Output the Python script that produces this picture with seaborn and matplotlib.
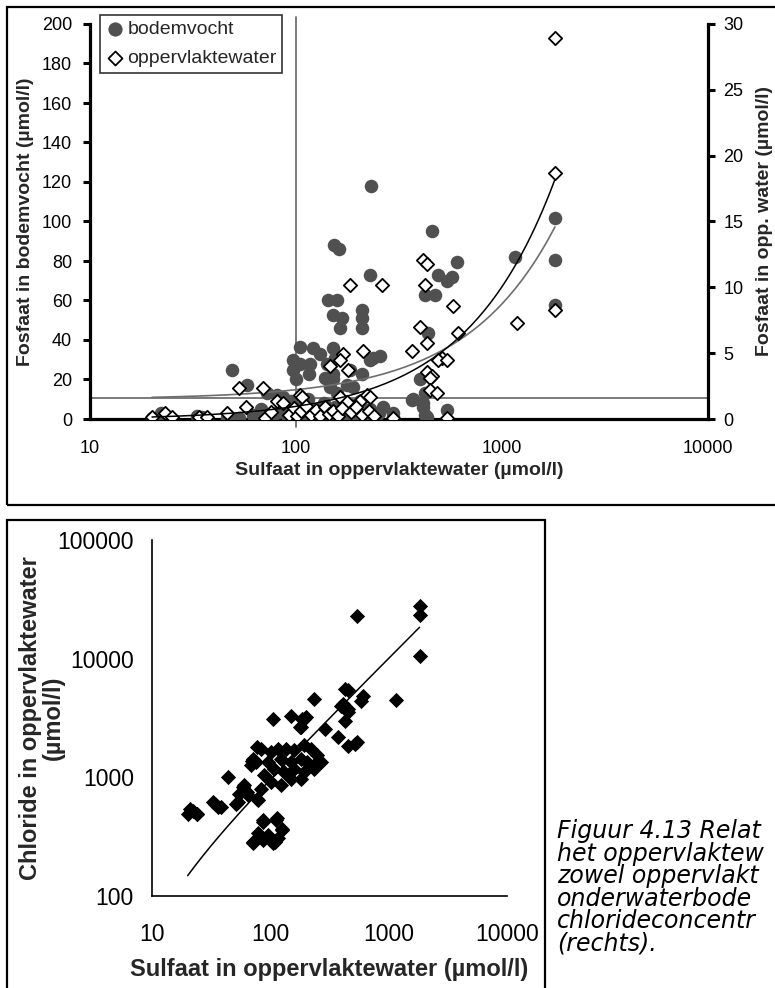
import numpy as np
import seaborn as sns
import matplotlib.pyplot as plt
from matplotlib.patches import Rectangle
from matplotlib.ticker import NullLocator

# top panel - bodemvocht (left axis, umol/l)
bodem_sulfaat = [231, 457, 153, 162, 229, 489, 541, 602, 570, 423, 473, 437, 1156, 1807, 1807, 1807,
                 143, 158, 152, 167, 163, 209, 209, 209,
                 104, 121, 131, 152, 155, 229, 256, 236,
                 97, 104, 117, 49, 97, 100, 115, 152, 183, 209,
                 58, 176, 189, 72, 81, 86, 146, 158,
                 141, 138, 152,
                 400, 423, 366, 414, 432, 541, 296, 370, 414, 423,
                 20, 22, 24, 33, 35, 37, 46, 53, 296,
                 62, 68, 75, 80, 85, 90, 95, 100, 103, 107, 110, 114, 118, 122, 127, 132,
                 137, 142, 148, 155, 162, 170, 178, 185, 195, 205, 215, 228, 240, 252, 265]
bodem_fosfaat = [118, 95, 88, 86, 73, 73, 70, 79.5, 72, 63, 63, 43.5, 82, 102, 80.5, 57.7,
                 60, 60, 52.6, 51, 46, 55, 51, 46,
                 36.5, 36, 33, 36, 31, 30, 32, 31,
                 30, 28, 28, 25, 25, 20, 23, 23, 25, 23,
                 17, 17, 16, 13, 12, 11, 16, 13,
                 28, 21, 20,
                 20, 13, 9.6, 8, 1, 4.5, 3, 10, 6, 2,
                 0.5, 3, 1, 1.5, 1, 0, 0.5, 0.5, 1,
                 2, 5, 1, 3, 7, 2, 9, 4, 1, 6, 2, 10, 3, 1, 5, 2,
                 8, 3, 1, 6, 2, 4, 1, 7, 3, 9, 2, 5, 1, 3, 6]

# top panel - oppervlaktewater (right axis, umol/l)
opp_sulfaat = [1807, 1807, 1807, 1183, 414, 432, 423, 261, 183, 578, 400, 610, 432, 366, 211,
               510, 489, 541, 146, 169, 163, 179, 432, 457, 447, 447, 485, 296, 541,
               53, 69, 57, 46, 71, 23, 25, 20, 34, 37, 81, 86, 104, 163, 176, 204, 220, 107, 229,
               76, 92, 98, 101, 106, 112, 118, 125, 131, 138, 145, 152, 160, 168, 185, 195,
               210, 225, 240]
opp_fosfaat = [28.9, 18.7, 8.3, 7.3, 12.1, 11.8, 10.2, 10.2, 10.2, 8.6, 7.0, 6.5, 5.8, 5.2, 5.2,
               4.6, 4.5, 4.5, 4.0, 4.9, 4.5, 3.7, 3.6, 3.3, 3.1, 2.2, 2.0, 0.1, 0.1,
               2.35, 2.35, 0.9, 0.45, 0.1, 0.45, 0.15, 0.15, 0.15, 0.15, 1.4, 1.2, 1.8, 1.7, 1.3,
               1.4, 1.8, 1.7, 1.7,
               0.5, 0.3, 0.8, 0.2, 0.6, 1.0, 0.3, 0.7, 0.2, 0.9, 0.4, 0.6, 0.2, 0.8, 0.5, 0.9,
               0.3, 0.6, 0.2]

# bottom panel - sulfaat vs chloride in oppervlaktewater
cl_sulfaat = [1824, 1824, 541, 1824, 1161, 425, 455, 601, 580, 396, 455, 425, 235, 150, 191, 178,
              106, 290, 370, 455, 541, 520, 77, 70, 44, 59, 63, 51, 77, 34, 36, 21, 24, 20,
              86, 72, 86, 113, 126, 110, 103,
              22, 24, 33, 38, 60, 54, 65, 53, 78, 76, 186, 180, 200, 410, 450,
              83, 101, 115, 135, 158, 192, 219, 250, 123, 149, 180, 205, 233, 267, 95, 108,
              131, 158, 192, 233, 101, 123, 149, 180, 69, 89, 83, 71,
              87, 78, 71, 95, 112, 126, 115, 105]
cl_chloride = [27600, 23500, 22750, 10500, 4490, 5600, 5450, 4850, 4400, 4000, 3520, 2990, 4550,
               3300, 3090, 2630, 3090, 2550, 2170, 1850, 1970, 1900, 1790, 1380, 1000, 826, 750,
               600, 660, 600, 560, 545, 495, 495, 420, 286, 295, 450, 370, 286, 295,
               525, 490, 615, 565, 855, 720, 705, 615, 650, 1350, 3100, 2650, 3200, 4150, 3800,
               1730, 1630, 1730, 1730, 1700, 1860, 1730, 1540, 1420, 1340, 1420, 1340, 1260,
               1340, 1340, 1170, 1100, 1170, 1100, 1170, 910, 855, 960, 960, 1260, 1050, 790,
               1420, 433, 342, 282, 324, 440, 363, 309, 282]

# linear trendlines (slope, intercept)
trend_bodem = [0.0483, 10.0]
trend_opp = [0.0101, -0.05]
trend_cl = [10.11, -54.0]

x_ticks = [10, 100, 1000, 10000]
left_ticks = list(range(0, 201, 20))
right_ticks = list(range(0, 31, 5))
cl_ticks = [100, 1000, 10000, 100000]

caption = ["Figuur 4.13 Relat", "het oppervlaktew", "zowel oppervlakt",
           "onderwaterbode", "chlorideconcentr", "(rechts)."]

sns.set_style("white")
plt.rcParams['font.family'] = ['Liberation Sans', 'DejaVu Sans']

W, H = 775, 988
fig = plt.figure(figsize=(W / 100, H / 100), dpi=100)

def fx(px):
    return px / W

def fy(py):
    return 1 - py / H

grey = '#505050'

# ---------------- top panel ----------------
ax = fig.add_axes([fx(90), fy(419), fx(708 - 90), (419 - 24) / H])
ax2 = ax.twinx()

sns.scatterplot(x=bodem_sulfaat, y=bodem_fosfaat, ax=ax, marker='o', s=95, color=grey,
                edgecolor=grey, linewidth=0, legend=False, zorder=3)
sns.scatterplot(x=opp_sulfaat, y=opp_fosfaat, ax=ax2, marker='D', s=46, color='white',
                edgecolor='black', linewidth=1.3, legend=False, zorder=3)

# trendlines evaluated over the data range
xs = np.geomspace(min(bodem_sulfaat), max(bodem_sulfaat), 200)
ax.plot(xs, trend_bodem[0] * xs + trend_bodem[1], color='#6e6e6e', lw=1.2, zorder=4)
xo = np.geomspace(min(opp_sulfaat), max(opp_sulfaat), 200)
ax2.plot(xo, trend_opp[0] * xo + trend_opp[1], color='black', lw=1.1, zorder=4)

# secondary axis crossing lines
ax.axvline(100, ymin=-0.02, ymax=1.018, color='#707070', lw=1.3, clip_on=False, zorder=2)
ax.axhline(10.5, color='#707070', lw=1.3, zorder=2)

for a in (ax, ax2):
    a.set_xscale('log')
    a.set_xlim(10, 10000)
ax.set_ylim(0, 200)
ax2.set_ylim(0, 30)
ax.set_xticks(x_ticks)
ax.set_xticklabels([str(v) for v in x_ticks])
ax.xaxis.set_minor_locator(NullLocator())
ax.set_yticks(left_ticks)
ax2.set_yticks(right_ticks)

for s in ['top', 'right']:
    ax.spines[s].set_visible(False)
for s in ['top', 'left', 'bottom']:
    ax2.spines[s].set_visible(False)
for s in ['left', 'bottom']:
    ax.spines[s].set_linewidth(2.3)
    ax.spines[s].set_color('black')
ax2.spines['right'].set_linewidth(2.3)
ax2.spines['right'].set_color('black')

ax.tick_params(axis='both', direction='out', length=5, width=2.2, labelsize=13, colors='black')
ax.tick_params(axis='y', pad=8)
ax.tick_params(axis='x', pad=10)
ax2.tick_params(axis='y', direction='out', length=5, width=2.2, labelsize=13, pad=6, colors='black')

ax.set_xlabel('Sulfaat in oppervlaktewater (µmol/l)', fontsize=14, fontweight='bold')
ax.xaxis.set_label_coords(0.5, -0.108)
ax.set_ylabel('Fosfaat in bodemvocht (µmol/l)', fontsize=14, fontweight='bold')
ax.yaxis.set_label_coords(-0.09, 0.5)
ax2.set_ylabel('Fosfaat in opp. water (µmol/l)', fontsize=14, fontweight='bold',
               rotation=90)
ax2.yaxis.set_label_coords(1.077, 0.5)

handles = [ax.collections[0], ax2.collections[0]]
leg = ax2.legend(handles, ['bodemvocht', 'oppervlaktewater'], loc='upper left',
                 bbox_to_anchor=(fx(100), fy(15)), bbox_transform=fig.transFigure,
                 fontsize=14, frameon=True, fancybox=False, borderpad=0.3,
                 labelspacing=0.55, handletextpad=0.2, handlelength=0.9,
                 borderaxespad=0, markerscale=1.05)
leg.get_frame().set_edgecolor('black')
leg.get_frame().set_linewidth(1.2)

# ---------------- bottom panel ----------------
bx = fig.add_axes([fx(152), fy(896), fx(507 - 152), (896 - 540) / H])
sns.scatterplot(x=cl_sulfaat, y=cl_chloride, ax=bx, marker='D', s=60, color='black',
                edgecolor='black', linewidth=0, legend=False, zorder=3)
xc = np.geomspace(min(cl_sulfaat), max(cl_sulfaat), 200)
bx.plot(xc, trend_cl[0] * xc + trend_cl[1], color='black', lw=1.1, zorder=4)

bx.set_xscale('log')
bx.set_yscale('log')
bx.set_xlim(10, 10000)
bx.set_ylim(100, 100000)
bx.set_xticks(x_ticks)
bx.set_xticklabels([str(v) for v in x_ticks])
bx.set_yticks(cl_ticks)
bx.set_yticklabels([str(v) for v in cl_ticks])
bx.xaxis.set_minor_locator(NullLocator())
bx.yaxis.set_minor_locator(NullLocator())
for s in ['top', 'right']:
    bx.spines[s].set_visible(False)
for s in ['left', 'bottom']:
    bx.spines[s].set_linewidth(1.2)
    bx.spines[s].set_color('black')
bx.tick_params(axis='x', direction='inout', length=7, width=1.2, labelsize=16.5, pad=16,
               colors='black')
bx.tick_params(axis='y', direction='out', length=5, width=1.2, labelsize=16.5, pad=8,
               colors='black')
bx.set_xlabel('Sulfaat in oppervlaktewater (µmol/l)', fontsize=17, fontweight='bold')
bx.xaxis.set_label_coords(0.5, -0.175)
bx.set_ylabel('Chloride in oppervlaktewater\n(µmol/l)', fontsize=17, fontweight='bold',
              linespacing=1.0)
bx.yaxis.set_label_coords(-0.245, 0.5)

# panel frames
fig.add_artist(Rectangle((fx(7), fy(505)), 1.0, (505 - 7) / H, transform=fig.transFigure,
                         fill=False, edgecolor='black', lw=1.6))
fig.add_artist(Rectangle((fx(7), -0.01), fx(545 - 7), fy(520) + 0.01, transform=fig.transFigure,
                         fill=False, edgecolor='black', lw=1.6))

# caption (cut off at the right edge in the source)
for i, line in enumerate(caption):
    fig.text(fx(557), fy(838 + 22.5 * i), line, fontsize=17, style='italic',
             family=['DejaVu Sans'], va='baseline', ha='left', color='black')

fig.savefig('out.png', dpi=100)
